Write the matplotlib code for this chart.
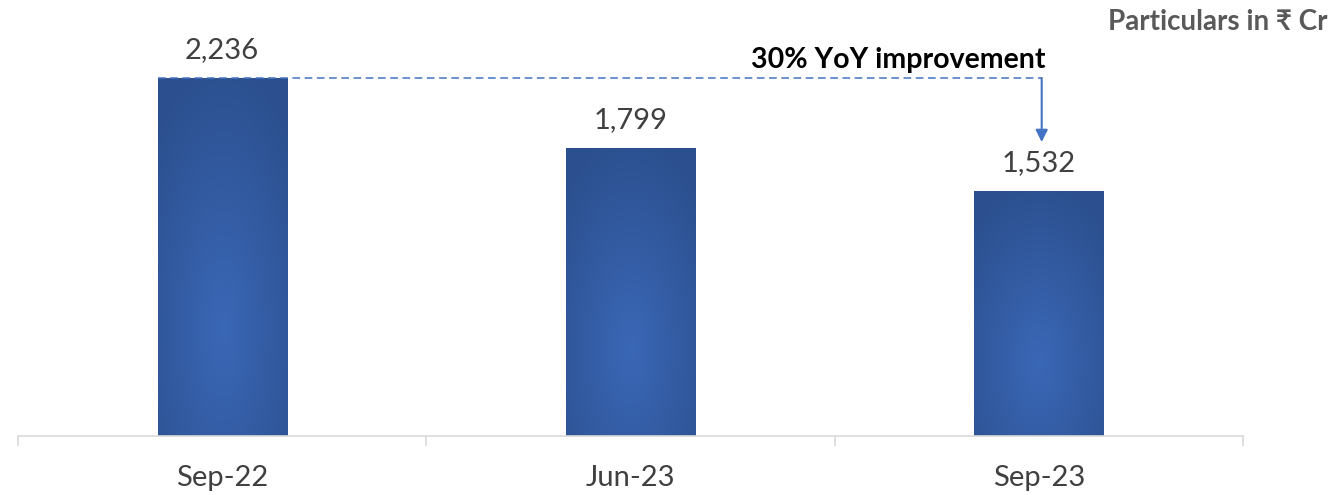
import matplotlib.pyplot as plt
import numpy as np
from matplotlib.colors import LinearSegmentedColormap

plt.rcParams['font.family'] = ['Lato', 'DejaVu Sans']

categories = ['Sep-22', 'Jun-23', 'Sep-23']
values = [2236, 1799, 1532]
labels = ['2,236', '1,799', '1,532']

fig = plt.figure(figsize=(13.37, 4.95), dpi=100)
ax = fig.add_axes([18 / 1337, 59 / 495, 1225 / 1337, 431 / 495])

x = np.arange(len(categories))
width = 0.316
bars = ax.bar(x, values, width=width, color='none', edgecolor='none', zorder=2)

# radial gradient inside each bar
cmap = LinearSegmentedColormap.from_list('bar', ['#3a67b6', '#2c508f'])
for b in bars:
    x0, w, h = b.get_x(), b.get_width(), b.get_height()
    u = np.linspace(-1, 1, 80)
    v = np.linspace(1, 0, 200)
    U, V = np.meshgrid(u, v)
    d = np.sqrt((U / 1.5) ** 2 + ((V - 0.3) / 0.75) ** 2)
    d = np.clip(d, 0, 1)
    im = ax.imshow(d, cmap=cmap, vmin=0, vmax=1, extent=[x0, x0 + w, 0, h],
                   aspect='auto', zorder=2, interpolation='bilinear')
    im.set_clip_path(b)

for xi, val, lab in zip(x, values, labels):
    ax.annotate(lab, (xi, val), xytext=(0, 20), textcoords='offset points',
                ha='center', va='center', fontsize=21, color='#404040')

# YoY annotation
ax.plot([x[0] - width / 2, 2.007], [values[0], values[0]], color='#4472c4',
        lw=1.1, dashes=(5, 3), zorder=3)
ax.annotate('', xy=(2.007, 1836), xytext=(2.007, values[0]),
            arrowprops=dict(arrowstyle='-|>', color='#4472c4', lw=1.5,
                            mutation_scale=18, shrinkA=0, shrinkB=0))
ax.text(1.656, 2348, '30% YoY improvement', ha='center', va='center',
        fontsize=20.5, fontweight='bold', color='black')

fig.text(1328 / 1337, 1 - 22 / 495, 'Particulars in ₹ Cr', ha='right', va='center',
         fontsize=20, fontweight='bold', color='#595959')

ax.set_xlim(-0.5, 2.5)
ax.set_ylim(0, 2692)
ax.set_xticks(x)
ax.set_xticklabels(categories, fontsize=21, color='#404040')
ax.set_xticks([-0.5, 0.5, 1.5, 2.5], minor=True)
ax.tick_params(axis='x', which='major', length=0, pad=21)
ax.tick_params(axis='x', which='minor', length=7.5, color='#d9d9d9', width=1.2)
ax.set_yticks([])
for s in ['top', 'right', 'left']:
    ax.spines[s].set_visible(False)
ax.spines['bottom'].set_color('#d9d9d9')
ax.spines['bottom'].set_linewidth(1.2)

fig.savefig('out.png', dpi=100)
